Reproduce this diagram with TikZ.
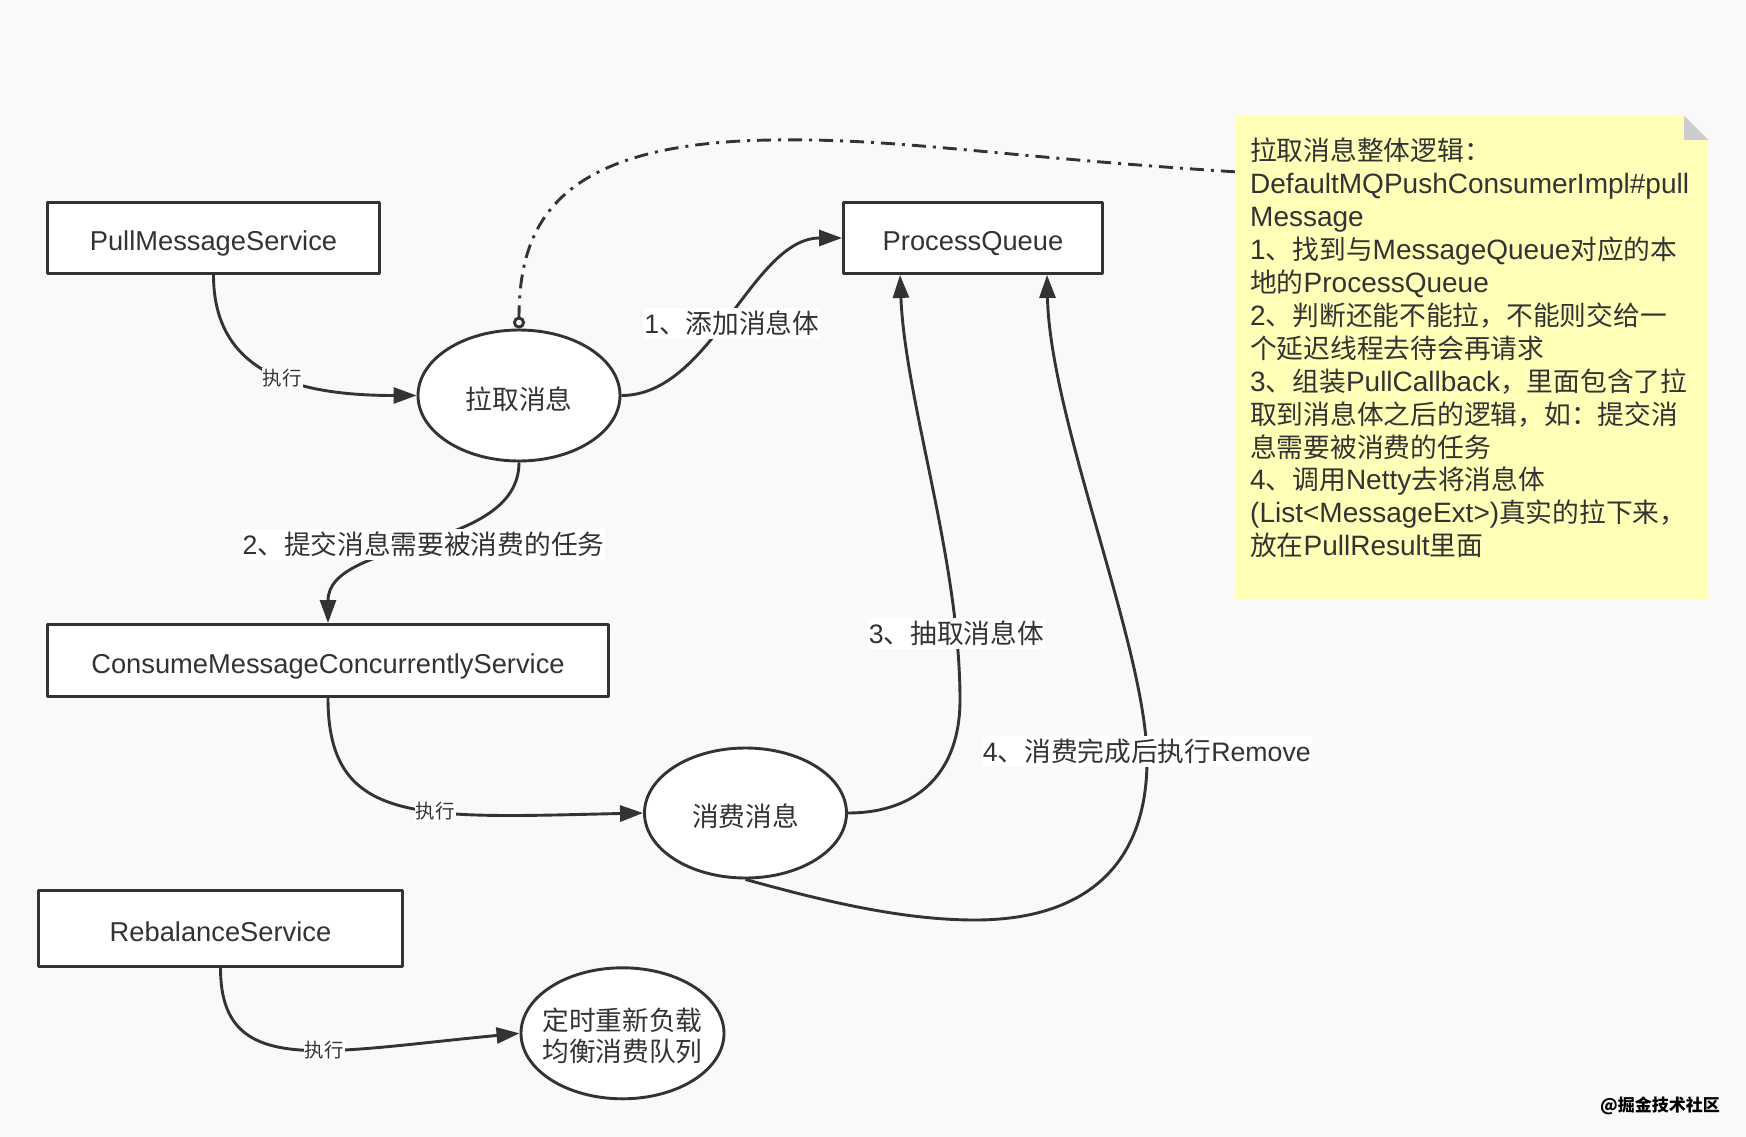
\documentclass[tikz,border=0pt]{standalone}
\usepackage{fontspec}
\setmainfont{Liberation Sans}
\newfontfamily\cjk{Noto Sans CJK SC}
\newfontfamily\cjkn{Noto Sans CJK SC}[Scale=0.955]
\usetikzlibrary{arrows.meta,shapes.geometric}
\definecolor{bg}{HTML}{F9F9F9}
\definecolor{ink}{HTML}{333333}
\definecolor{notefill}{HTML}{FFFFB8}
\definecolor{foldgray}{HTML}{CCCCCC}
\newcommand\zhfont{\cjk}
\newcommand\zh[1]{{\zhfont #1}}
\begin{document}
\begin{tikzpicture}[x=1pt,y=-1pt,line join=round,
  box/.style={draw=ink,line width=2.9pt,fill=white,rectangle,inner sep=0pt,text=ink,text height=25pt,text depth=0pt,font=\fontsize{27.3}{32}\selectfont},
  oval/.style={draw=ink,line width=2.9pt,fill=white,ellipse,inner sep=0pt,text=ink,align=center,font=\fontsize{26.7}{31}\selectfont\cjk},
  conn/.style={draw=ink,line width=2.9pt,-{Triangle[length=23pt,width=16pt]}},
  dashdot/.style={draw=ink,line width=2.9pt,dash pattern=on 14pt off 7pt on 3pt off 7pt,-{Circle[open,length=12pt,width=12pt]}},
  elabel/.style={fill=white,text=ink,inner xsep=1pt,inner ysep=3pt,font=\fontsize{26.7}{31}\selectfont},
  exlabel/.style={fill=white,text=ink,inner sep=1pt,font=\fontsize{19.5}{22}\selectfont\cjk},
]
\fill[bg] (0,0) rectangle (1746,1137);
\useasboundingbox (0,0) rectangle (1746,1137);

% note
\node[inner sep=0pt,minimum width=473pt,minimum height=483pt] (note) at (1471.5,357.5) {};
\fill[notefill] (note.south west) -- (note.north west) -- ([xshift=-24pt]note.north east) -- ([yshift=-24pt]note.north east) -- (note.south east) -- cycle;
\fill[foldgray] ([xshift=-24pt]note.north east) -- ([xshift=-24pt,yshift=-24pt]note.north east) -- ([yshift=-24pt]note.north east) -- cycle;
\node[anchor=north west,inner sep=0pt,align=left,text=ink,font=\fontsize{28}{32.9}\selectfont\let\zhfont\cjkn] (notetext) at (1250,138) {%
\zh{拉取消息整体逻辑：}\\
DefaultMQPushConsumerImpl\#pull\\
Message\\
1\zh{、找到与}MessageQueue\zh{对应的本}\\
\zh{地的}ProcessQueue\\
2\zh{、判断还能不能拉，不能则交给一}\\
\zh{个延迟线程去待会再请求}\\
3\zh{、组装}PullCallback\zh{，里面包含了拉}\\
\zh{取到消息体之后的逻辑，如：提交消}\\
\zh{息需要被消费的任务}\\
4\zh{、调用}Netty\zh{去将消息体}\\
(List<MessageExt>)\zh{真实的拉下来，}\\
\zh{放在}PullResult\zh{里面}};

% boxes
\node[box,minimum width=332pt,minimum height=71pt] (pms) at (213.5,238) {PullMessageService};
\node[box,minimum width=259pt,minimum height=71pt] (pq) at (973,238) {ProcessQueue};
\node[box,minimum width=561pt,minimum height=72pt] (cmcs) at (328,660.5) {ConsumeMessageConcurrentlyService};
\node[box,minimum width=364pt,minimum height=76pt] (rbs) at (220.5,928.5) {RebalanceService};

% ovals
\node[oval,text height=27pt,text depth=0pt,minimum width=202pt,minimum height=131pt] (pull) at (519,395.5) {拉取消息};
\node[oval,text height=26pt,text depth=0pt,minimum width=202pt,minimum height=130pt] (consume) at (745.5,813) {消费消息};
\node[oval,inner xsep=-14pt,text height=40pt,text depth=15.4pt,minimum width=203pt,minimum height=131pt] (rebal) at (622.5,1033.3) {\begin{tabular}{@{}c@{}}定时重新负载\\均衡消费队列\end{tabular}};

% connectors
\draw[conn] (pms.south) .. controls +(0,100) and +(-117,0) .. (pull.west) node[exlabel,pos=0.55] (l1) {执行};
\draw[conn] (pull.east) .. controls +(90,0) and +(-90,0) .. (pq.west) node[elabel,pos=0.48,xshift=4pt,yshift=-2pt] (l2) {1\zh{、添加消息体}};
\draw[conn] (pull.south) .. controls +(0,90) and +(0,-85) .. (cmcs.north) node[elabel,pos=0.5] (l3) {2\zh{、提交消息需要被消费的任务}};
\draw[conn] (cmcs.south) .. controls +(0,128) and +(-224,5) .. (consume.west) node[exlabel,pos=0.6] (l4) {执行};
\draw[conn] (rbs.south) .. controls +(0,110) and +(-200,19) .. (rebal.west) node[exlabel,pos=0.59] (l5) {执行};
\draw[conn] (consume.east) .. controls (920,813) and (960,770) .. (960,700) .. controls (960,560) and (905,400) .. ([xshift=-73pt]pq.south) node[elabel,pos=0.155] (l6) {3\zh{、抽取消息体}};
\draw[conn] (consume.south) .. controls (820,900) and (900,920) .. (975,920) .. controls (1080,920) and (1147,870) .. (1147,760) .. controls (1147,650) and (1050,420) .. ([xshift=74pt]pq.south) node[elabel,pos=0.025] (l7) {4\zh{、消费完成后执行}Remove};
\draw[dashdot] ([yshift=-56pt]note.north west) .. controls (1000,157) and (900,138) .. (772,140) .. controls (560,143) and (519,220) .. (pull.north);

% watermark
\node[anchor=west,inner sep=0pt,text=black,font=\fontsize{17}{20}\selectfont\cjk\bfseries] (wm) at (1600,1106) {@掘金技术社区};
\end{tikzpicture}
\end{document}
